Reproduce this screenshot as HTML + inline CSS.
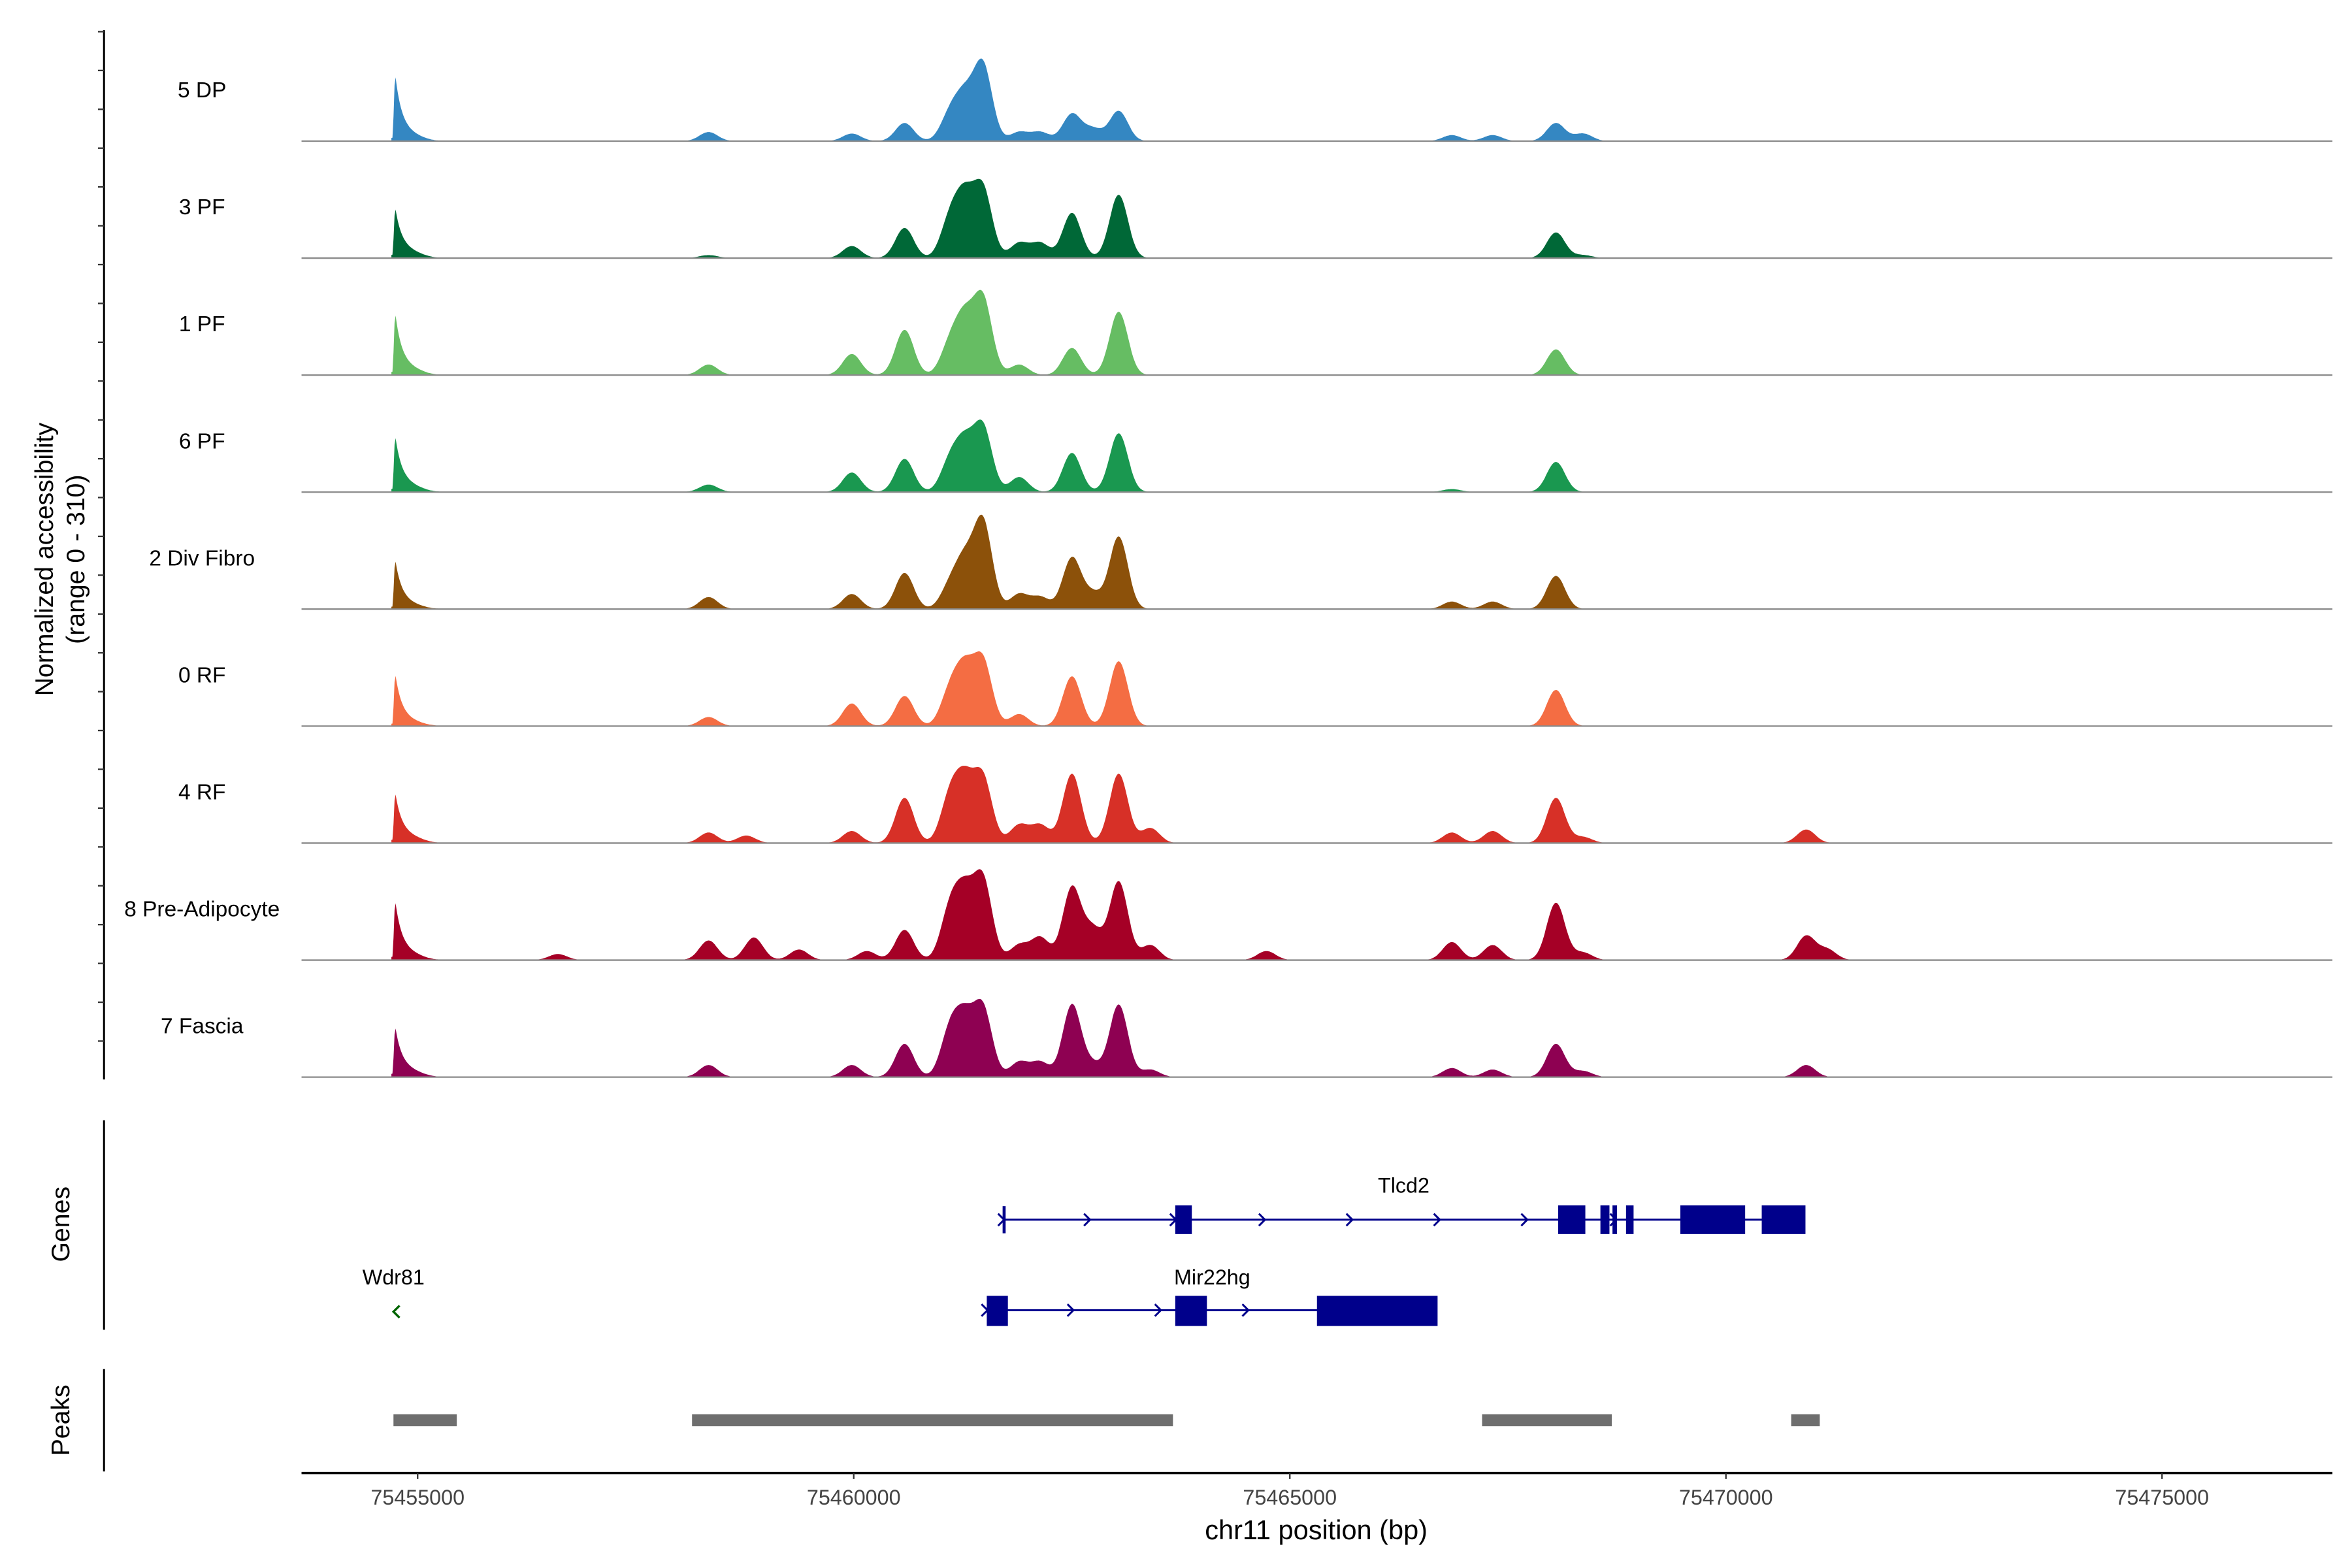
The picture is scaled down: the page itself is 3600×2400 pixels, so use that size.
<!DOCTYPE html>
<html><head><meta charset="utf-8">
<style>
html,body{margin:0;padding:0;background:#fff;}
svg{display:block;font-family:"Liberation Sans",Arial,sans-serif;}
</style></head>
<body>
<svg id="chart" width="3600" height="2400" viewBox="0 0 1560 1040" xmlns="http://www.w3.org/2000/svg">
<rect width="1560" height="1040" fill="#fff"/>
<g id="tracks"></g>
<g id="yaxis"></g>
<text transform="translate(35,371) rotate(-90)" text-anchor="middle" font-size="17">Normalized accessibility</text>
<text transform="translate(56,371) rotate(-90)" text-anchor="middle" font-size="17">(range 0 - 310)</text>

<g>
<line x1="69" y1="743" x2="69" y2="882" stroke="#000" stroke-width="1.3"/>
<text transform="translate(46,812) rotate(-90)" text-anchor="middle" font-size="17">Genes</text>
<g fill="#00008b" stroke="#00008b">
<line x1="666" y1="809" x2="1197" y2="809" stroke-width="1.3"/>
<line x1="666" y1="800" x2="666" y2="818" stroke-width="2"/>
<rect x="780" y="800" width="10" height="18"/>
<rect x="1034" y="800" width="17" height="18"/>
<rect x="1062" y="800" width="5" height="18"/>
<rect x="1070" y="800" width="2" height="18"/>
<rect x="1079" y="800" width="4" height="18"/>
<rect x="1115" y="800" width="42" height="18"/>
<rect x="1169" y="800" width="28" height="18"/>
<g fill="none" stroke-width="1.3">
<path d="M662,805 L666,809 L662,813"/><path d="M719,805 L723,809 L719,813"/><path d="M776,805 L780,809 L776,813"/>
<path d="M835,805 L839,809 L835,813"/><path d="M893,805 L897,809 L893,813"/><path d="M951,805 L955,809 L951,813"/><path d="M1009,805 L1013,809 L1009,813"/><path d="M1068,805 L1072,809 L1068,813"/>
</g>
</g>
<text x="931" y="791" text-anchor="middle" font-size="14">Tlcd2</text>
<g fill="#00008b" stroke="#00008b">
<line x1="655" y1="869" x2="953" y2="869" stroke-width="1.3"/>
<rect x="655" y="860" width="13" height="19"/>
<rect x="780" y="860" width="20" height="19"/>
<rect x="874" y="860" width="79" height="19"/>
<g fill="none" stroke-width="1.3">
<path d="M708,865 L712,869 L708,873"/><path d="M766,865 L770,869 L766,873"/><path d="M824,865 L828,869 L824,873"/><path d="M651,865 L655,869 L651,873"/>
</g>
</g>
<text x="804" y="852" text-anchor="middle" font-size="14">Mir22hg</text>
<path d="M265,866 L261,870 L265,874" fill="none" stroke="#006400" stroke-width="1.5"/>
<text x="261" y="852" text-anchor="middle" font-size="14">Wdr81</text>
</g>

<g>
<line x1="69" y1="908" x2="69" y2="976" stroke="#000" stroke-width="1.3"/>
<text transform="translate(46,942) rotate(-90)" text-anchor="middle" font-size="17">Peaks</text>
<g id="peakbars" fill="#6e6e6e"></g>
</g>

<g id="xaxis"></g>
<text x="873" y="1021" text-anchor="middle" font-size="18">chr11 position (bp)</text>
</svg>
<script>
const NS="http://www.w3.org/2000/svg";
const trackNames=["5 DP","3 PF","1 PF","6 PF","2 Div Fibro","0 RF","4 RF","8 Pre-Adipocyte","7 Fascia"];
const trackColors=["#3487c2","#006837","#66bd63","#1a9850","#8c510a","#f46d43","#d73027","#a50026","#8e0152"];
const peakPos=[75454741,75454879,75456608,75458336,75458768,75458855,75459373,75459978,75460151,75460583,75461102,75461275,75461482,75461897,75462139,75462502,75462744,75463038,75463401,75464732,75466858,75467325,75468051,75468362,75470920,75471162];
const h5DP=[172,16,0,24,0,0,0,20,0,48,70,110,200,24,24,72,32,80,0,0,16,16,48,20,0,0];
const h3PF=[128,16,0,8,0,0,0,32,0,80,100,150,180,40,40,120,0,168,0,0,0,0,68,8,0,0];
const h1PF=[160,16,0,28,0,0,0,56,0,120,80,140,200,28,0,72,0,168,0,0,0,0,68,0,0,0];
const h6PF=[144,16,0,20,0,0,0,52,0,88,80,120,170,40,0,104,0,156,0,0,8,0,80,0,0,0];
const hDiv=[128,12,0,32,0,0,0,40,0,96,60,120,230,40,32,136,40,192,0,0,20,20,88,0,0,0];
const h0RF=[136,12,0,24,0,0,0,60,0,80,90,140,170,32,0,132,0,172,0,0,0,0,96,0,0,0];
const h4RF=[128,16,0,28,20,0,0,32,0,120,120,150,170,48,48,184,0,184,40,0,28,32,120,16,36,0];
const h8Pre=[152,16,16,52,0,60,28,0,24,80,130,160,210,40,60,192,80,208,40,24,48,40,152,20,64,28];
const h7Fas=[128,16,0,32,0,0,0,32,0,88,120,140,180,40,40,192,32,192,20,0,24,20,88,16,32,0];
const trackHeights=[h5DP,h3PF,h1PF,h6PF,hDiv,h0RF,h4RF,h8Pre,h7Fas];
const xTicks=[75455000,75460000,75465000,75470000,75475000];
const peakStart=[75454723,75458146,75467204,75470748];
const peakEnd=[75455449,75463660,75468691,75471076];

const X0=277,BP0=75455000,PXPERBP=1157/20000;
function xs(bp){return X0+(bp-BP0)*PXPERBP;}
const ROWTOP=16,ROWH=77.6,VMAX=310,AMP=0.25;
function ys(v,i){const b=ROWTOP+ROWH*(i+1);return b-v*AMP;}

const tracks=document.getElementById('tracks');
trackNames.forEach((name,i)=>{
  const hs=trackHeights[i];
  let d="";
  const start=75454700,end=75476500;
  d+="M"+xs(start).toFixed(1)+","+ys(0,i).toFixed(1);
  for(let bp=start;bp<=end;bp+=12){
    let v=0;
    for(let k=0;k<peakPos.length;k++){
      if(!hs[k])continue;
      const dx=bp-peakPos[k];
      if(k===0){ v+= dx<0? (dx>-25?hs[k]*(1+dx/25):0) : hs[k]*Math.exp(-dx/80); }
      else if(k===1){ const s=160; v+=hs[k]*Math.exp(-dx*dx/(2*s*s)); }
      else { const s=105; v+=hs[k]*Math.exp(-dx*dx/(2*s*s)); }
    }
    v=Math.min(v,VMAX);
    d+=" L"+xs(bp).toFixed(1)+","+ys(v,i).toFixed(1);
  }
  d+=" L"+xs(end).toFixed(1)+","+ys(0,i).toFixed(1)+" Z";
  const p=document.createElementNS(NS,'path');
  p.setAttribute('d',d);p.setAttribute('fill',trackColors[i]);
  
  
  tracks.appendChild(p);
  const l=document.createElementNS(NS,'line');
  l.setAttribute('x1',200);l.setAttribute('x2',1547);
  l.setAttribute('y1',ys(0,i));l.setAttribute('y2',ys(0,i));
  l.setAttribute('stroke','#8a8a8a');l.setAttribute('stroke-width','1');
  
  
  tracks.appendChild(l);
  const t=document.createElementNS(NS,'text');
  t.setAttribute('x',134);t.setAttribute('y',ys(0,i)-29);
  t.setAttribute('text-anchor','middle');t.setAttribute('font-size','14.5');
  t.textContent=name;
  
  
  tracks.appendChild(t);
});

const ya=document.getElementById('yaxis');
const yl=document.createElementNS(NS,'line');
yl.setAttribute('x1',69);yl.setAttribute('x2',69);yl.setAttribute('y1',20);yl.setAttribute('y2',716);
yl.setAttribute('stroke','#000');yl.setAttribute('stroke-width','1.3');


ya.appendChild(yl);
for(let y=21;y<=716;y+=25.75){
  const tk=document.createElementNS(NS,'line');
  tk.setAttribute('x1',65);tk.setAttribute('x2',69);tk.setAttribute('y1',y);tk.setAttribute('y2',y);
  tk.setAttribute('stroke','#333');tk.setAttribute('stroke-width','1');
  
  
  ya.appendChild(tk);
}

const pb=document.getElementById('peakbars');
peakStart.forEach((s,i)=>{
  const r=document.createElementNS(NS,'rect');
  r.setAttribute('x',xs(s));r.setAttribute('width',xs(peakEnd[i])-xs(s));
  r.setAttribute('y',938);r.setAttribute('height',8);
  
  
  pb.appendChild(r);
});

const xa=document.getElementById('xaxis');
const xl=document.createElementNS(NS,'line');
xl.setAttribute('x1',200);xl.setAttribute('x2',1547);xl.setAttribute('y1',977);xl.setAttribute('y2',977);
xl.setAttribute('stroke','#000');xl.setAttribute('stroke-width','1.5');


xa.appendChild(xl);
xTicks.forEach(v=>{
  const tk=document.createElementNS(NS,'line');
  tk.setAttribute('x1',xs(v));tk.setAttribute('x2',xs(v));tk.setAttribute('y1',977);tk.setAttribute('y2',981);
  tk.setAttribute('stroke','#333');
  
  
  xa.appendChild(tk);
  const t=document.createElementNS(NS,'text');
  t.setAttribute('x',xs(v));t.setAttribute('y',998);t.setAttribute('text-anchor','middle');
  t.setAttribute('font-size','14');t.setAttribute('fill','#444');
  t.textContent=v;
  
  
  xa.appendChild(t);
});
</script>
</body></html>
